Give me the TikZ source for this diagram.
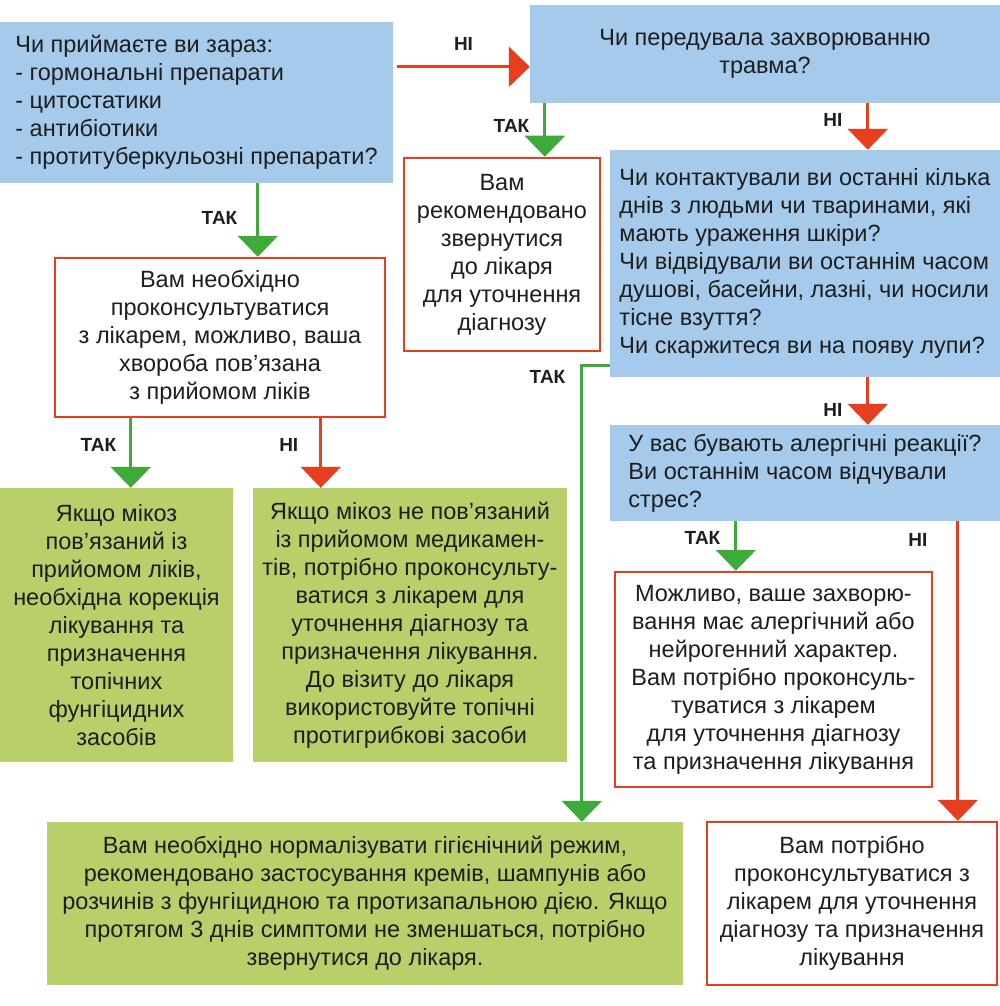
\documentclass[tikz,border=0pt]{standalone}
\usepackage{fontspec}
\setmainfont{Liberation Sans}
\usepackage{tikz}
\usetikzlibrary{calc,positioning,arrows.meta}

\definecolor{qblue}{HTML}{A5CAEC}
\definecolor{recgreen}{HTML}{B9D06A}
\definecolor{arred}{HTML}{E63E1E}
\definecolor{argreen}{HTML}{3DAA3A}
\definecolor{ink}{HTML}{1E1E1E}

\begin{document}
\begin{tikzpicture}[x=1pt, y=-1pt,
    every node/.style={font=\fontsize{23.5}{28}\selectfont, text=ink},
    qbox/.style={fill=qblue, align=left, inner sep=0pt},
    docbox/.style={draw=arred, line width=2.5pt, fill=white, align=center, inner sep=0pt},
    tipbox/.style={fill=recgreen, align=center, inner sep=0pt},
    yesarr/.style={draw=argreen, line width=3pt, -{Triangle[width=40pt,length=21pt]}},
    noarr/.style={draw=arred, line width=3pt, -{Triangle[width=40pt,length=21pt]}},
    lbl/.style={font=\fontsize{19}{22}\selectfont\bfseries, inner sep=0pt}]
    \useasboundingbox (0,0) rectangle (1000,1006);

    % questions
    \node[qbox, minimum width=393pt, minimum height=161pt] (drugs) at (196.5,102.5)
        {Чи приймаєте ви зараз:\\- гормональні препарати\\- цитостатики\\- антибіотики\\- протитуберкульозні препарати?};
    \node[qbox, align=center, minimum width=470pt, minimum height=98pt] (trauma) at (765,54)
        {Чи передувала захворюванню\\травма?};
    \node[qbox, minimum width=390pt, minimum height=227pt] (contact) at (805,263.5)
        {Чи контактували ви останні кілька\\днів з людьми чи тваринами, які\\мають ураження шкіри?\\Чи відвідували ви останнім часом\\душові, басейни, лазні, чи носили\\тісне взуття?\\Чи скаржитеся ви на появу лупи?};
    \node[qbox, minimum width=390pt, minimum height=96pt] (allergy) at (805,473)
        {У вас бувають алергічні реакції?\\Ви останнім часом відчували\\стрес?};

    % go to a doctor
    \node[docbox, minimum width=196pt, minimum height=193pt] (docvisit) at (502,254.5)
        {Вам\\рекомендовано\\звернутися\\до лікаря\\для уточнення\\діагнозу};
    \node[docbox, minimum width=330pt, minimum height=159pt] (meds) at (220,337.5)
        {Вам необхідно\\проконсультуватися\\з лікарем, можливо, ваша\\хвороба пов’язана\\з прийомом ліків};
    \node[docbox, minimum width=317pt, minimum height=215pt] (nervous) at (773.5,679.5)
        {Можливо, ваше захворю-\\вання має алергічний або\\нейрогенний характер.\\Вам потрібно проконсуль-\\туватися з лікарем\\для уточнення діагнозу\\та призначення лікування};
    \node[docbox, minimum width=290pt, minimum height=163pt] (consult) at (852,903.5)
        {Вам потрібно\\проконсультуватися з\\лікарем для уточнення\\діагнозу та призначення\\лікування};

    % treatment advice
    \node[tipbox, minimum width=233pt, minimum height=274pt] (correct) at (116.5,625)
        {Якщо мікоз\\пов'язаний із\\прийомом ліків,\\необхідна корекція\\лікування та\\призначення\\топічних\\фунгіцидних\\засобів};
    \node[tipbox, minimum width=314pt, minimum height=274pt] (antifung) at (410,625)
        {Якщо мікоз не пов'язаний\\із прийомом медикамен-\\тів, потрібно проконсульту-\\ватися з лікарем для\\уточнення діагнозу та\\призначення лікування.\\До візиту до лікаря\\використовуйте топічні\\протигрибкові засоби};
    \node[tipbox, minimum width=636pt, minimum height=163pt] (hygiene) at (365,903.5)
        {Вам необхідно нормалізувати гігієнічний режим,\\рекомендовано застосування кремів, шампунів або\\розчинів з фунгіцидною та протизапальною дією. Якщо\\протягом 3 днів симптоми не зменшаться, потрібно\\звернутися до лікаря.};

    % connectors
    \draw[noarr] ($(drugs.north east)+(4,45)$) coordinate (ab) -- node[lbl, above=15pt] (n1) {НІ} (ab -| trauma.west);
    \draw[yesarr] ($(trauma.south west)+(15,0)$) coordinate (bc) -- node[lbl, pos=0.43, left=14pt] (y1) {ТАК} (bc |- docvisit.north);
    \draw[noarr] ($(trauma.south west)+(338,0)$) coordinate (bd) -- node[lbl, pos=0.36, left=24pt] (n2) {НІ} (bd |- contact.north);
    \draw[noarr] ($(contact.south west)+(258,0)$) coordinate (de) -- node[lbl, pos=0.69, left=24pt] (n3) {НІ} (de |- allergy.north);
    \draw[yesarr] ($(allergy.south west)+(126,0)$) coordinate (ef) -- node[lbl, pos=0.33, left=14pt] (y2) {ТАК} (ef |- nervous.north);
    \draw[noarr] ($(allergy.south west)+(348,0)$) coordinate (eg) -- node[lbl, pos=0.063, left=29pt] (n4) {НІ} (eg |- consult.north);
    \draw[yesarr] ($(contact.south west)+(0,-12)$) -- ++(-28,0) coordinate (dh)
        -- node[lbl, pos=0.026, left=15pt] (y3) {ТАК} (dh |- hygiene.north);
    \draw[yesarr] ($(drugs.south west)+(258,0)$) coordinate (ai) -- node[lbl, pos=0.47, left=19pt] (y4) {ТАК} (ai |- meds.north);
    \draw[yesarr] ($(meds.south west)+(77,0)$) coordinate (ij) -- node[lbl, pos=0.39, left=13pt] (y5) {ТАК} (ij |- correct.north);
    \draw[noarr] ($(meds.south west)+(267,0)$) coordinate (ik) -- node[lbl, pos=0.39, left=21pt] (n5) {НІ} (ik |- antifung.north);
\end{tikzpicture}
\end{document}
